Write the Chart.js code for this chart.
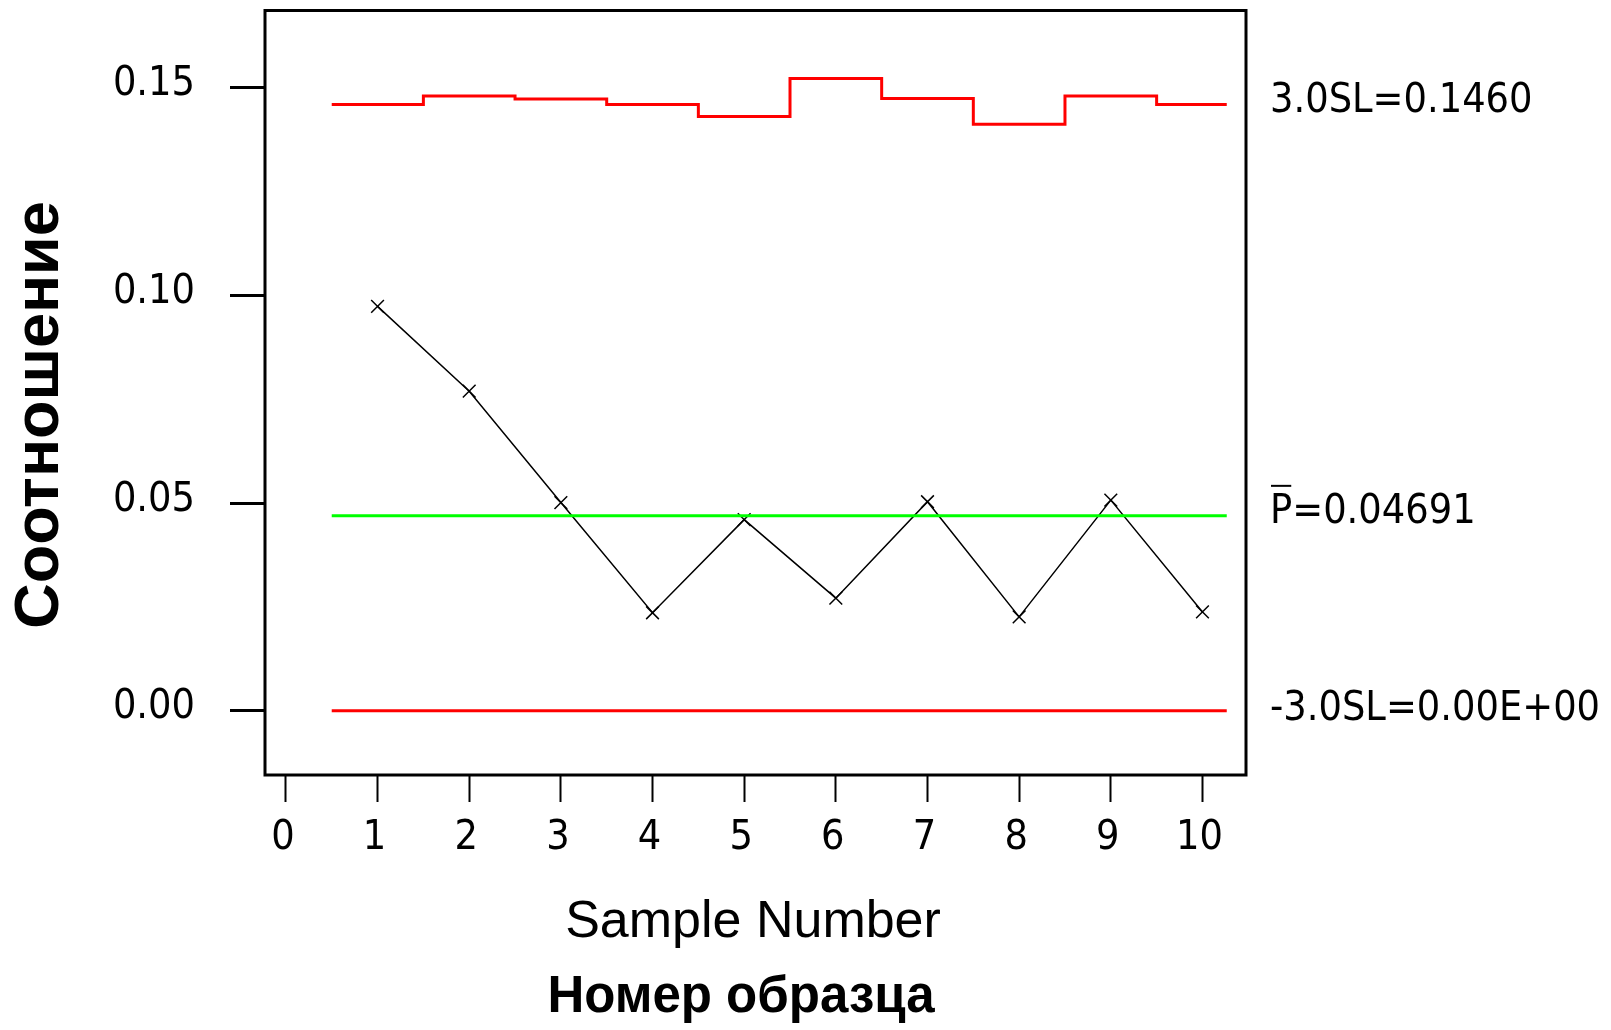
<!DOCTYPE html>
<html>
<head>
<meta charset="utf-8">
<script src="https://cdn.jsdelivr.net/npm/chart.js@4"></script>
<style>
  body { margin: 0; background: #fff; }
  canvas { display: block; }
</style>
</head>
<body>
<canvas id="p-chart" width="1611" height="1030"></canvas>
<script>
// Sample numbers and proportions
const samples = [1, 2, 3, 4, 5, 6, 7, 8, 9, 10];
const proportion = [0.0973, 0.0769, 0.0501, 0.0236, 0.0460, 0.0271, 0.0503, 0.0226, 0.0507, 0.0238];

// Upper control limit per sample (varies with sample size)
const ucl = [0.1459, 0.1479, 0.1472, 0.1459, 0.1430, 0.1521, 0.1473, 0.1411, 0.1479, 0.1459];
const pBar = 0.04691;
const lcl = 0;
const lineEnd = 10.265;

// Axis ticks
const xTicks = [0, 1, 2, 3, 4, 5, 6, 7, 8, 9, 10];
const yTicks = [0, 0.05, 0.10, 0.15];

// Labels on the right of the plot
const uclLabel = '3.0SL=0.1460';
const pBarLabel = 'P=0.04691';
const lclLabel = '-3.0SL=0.00E+00';

const tickFont = "'DejaVu Sans Condensed', 'Liberation Sans Narrow', sans-serif";
const titleFont = "'Liberation Sans', Arial, sans-serif";

// Build the step points for the UCL line
const uclPoints = samples.map((s, i) => ({ x: s - 0.5, y: ucl[i] }));
uclPoints.push({ x: lineEnd, y: ucl[ucl.length - 1] });

const firstEdge = samples[0] - 0.5;

// Box, limit labels and axis titles
const annotate = {
    id: 'annotate',
    afterDatasetsDraw(chart) {
        const { ctx, chartArea: a, scales: { y } } = chart;
        ctx.save();
        ctx.strokeStyle = '#000';
        ctx.lineWidth = 3;
        ctx.strokeRect(a.left, a.top, a.right - a.left, a.bottom - a.top);

        ctx.fillStyle = '#000';
        ctx.font = '41px ' + tickFont;
        ctx.textAlign = 'left';
        ctx.textBaseline = 'middle';
        const lx = a.right + 24;
        ctx.fillText(uclLabel, lx, y.getPixelForValue(ucl[ucl.length - 1]) - 3);
        const py = y.getPixelForValue(pBar) - 4;
        ctx.fillText(pBarLabel, lx, py);
        // bar over the P
        const pw = ctx.measureText('P').width;
        ctx.lineWidth = 2;
        ctx.beginPath();
        ctx.moveTo(lx + 1, py - 26);
        ctx.lineTo(lx + pw - 1, py - 26);
        ctx.stroke();
        ctx.fillText(lclLabel, lx, y.getPixelForValue(lcl) - 1);
        ctx.restore();
    },
    afterDraw(chart) {
        const { ctx } = chart;
        ctx.save();
        ctx.fillStyle = '#000';
        ctx.textAlign = 'center';
        ctx.textBaseline = 'alphabetic';
        ctx.font = '52px ' + titleFont;
        ctx.fillText('Sample Number', 753, 937);
        ctx.font = 'bold 51px ' + titleFont;
        ctx.fillText('Номер образца', 741, 1012);

        ctx.translate(41, 415);
        ctx.rotate(-Math.PI / 2);
        ctx.textBaseline = 'middle';
        ctx.font = 'bold 63px ' + titleFont;
        ctx.fillText('Соотношение', 0, 0);
        ctx.restore();
    }
};

const ctx = document.getElementById('p-chart').getContext('2d');
const pChart = new Chart(ctx, {
    type: 'line',
    data: {
        datasets: [
            {
                label: 'Proportion',
                data: samples.map((s, i) => ({ x: s, y: proportion[i] })),
                borderColor: '#000',
                borderWidth: 1.5,
                pointStyle: 'crossRot',
                pointRadius: 9,
                pointBorderWidth: 1.5,
                pointBorderColor: '#000',
                tension: 0,
                order: 2
            },
            {
                label: 'UCL',
                data: uclPoints,
                borderColor: '#ff0000',
                borderWidth: 3,
                stepped: true,
                pointRadius: 0,
                order: 1
            },
            {
                label: 'P bar',
                data: [{ x: firstEdge, y: pBar }, { x: lineEnd, y: pBar }],
                borderColor: '#00ff00',
                borderWidth: 3,
                pointRadius: 0,
                order: 1
            },
            {
                label: 'LCL',
                data: [{ x: firstEdge, y: lcl }, { x: lineEnd, y: lcl }],
                borderColor: '#ff0000',
                borderWidth: 3,
                pointRadius: 0,
                order: 1
            }
        ]
    },
    options: {
        responsive: false,
        animation: false,
        devicePixelRatio: 1,
        layout: {
            padding: { left: 0, top: 9, right: 365, bottom: 0 }
        },
        plugins: {
            legend: { display: false },
            tooltip: { enabled: false }
        },
        scales: {
            x: {
                type: 'linear',
                min: -0.228,
                max: 10.475,
                afterBuildTicks: axis => { axis.ticks = xTicks.map(v => ({ value: v })); },
                afterFit: axis => {
                    axis.height = 255;
                    axis.paddingLeft = 0;
                    axis.paddingRight = 0;
                },
                border: { display: false },
                grid: {
                    drawOnChartArea: false,
                    drawTicks: true,
                    tickLength: 27,
                    tickWidth: 2,
                    tickColor: '#000'
                },
                ticks: {
                    color: '#000',
                    padding: 12,
                    labelOffset: -3,
                    maxRotation: 0,
                    font: { family: tickFont, size: 41 },
                    callback: value => String(value)
                }
            },
            y: {
                type: 'linear',
                min: -0.01544,
                max: 0.16849,
                afterBuildTicks: axis => { axis.ticks = yTicks.map(v => ({ value: v })); },
                afterFit: axis => {
                    axis.width = 265;
                    axis.paddingTop = 0;
                    axis.paddingBottom = 0;
                },
                border: { display: false },
                grid: {
                    drawOnChartArea: false,
                    drawTicks: true,
                    tickLength: 35,
                    tickWidth: 3,
                    tickColor: '#000'
                },
                ticks: {
                    color: '#000',
                    padding: 35,
                    labelOffset: -3,
                    font: { family: tickFont, size: 41 },
                    callback: value => value.toFixed(2)
                }
            }
        }
    },
    plugins: [annotate]
});
</script>
</body>
</html>
